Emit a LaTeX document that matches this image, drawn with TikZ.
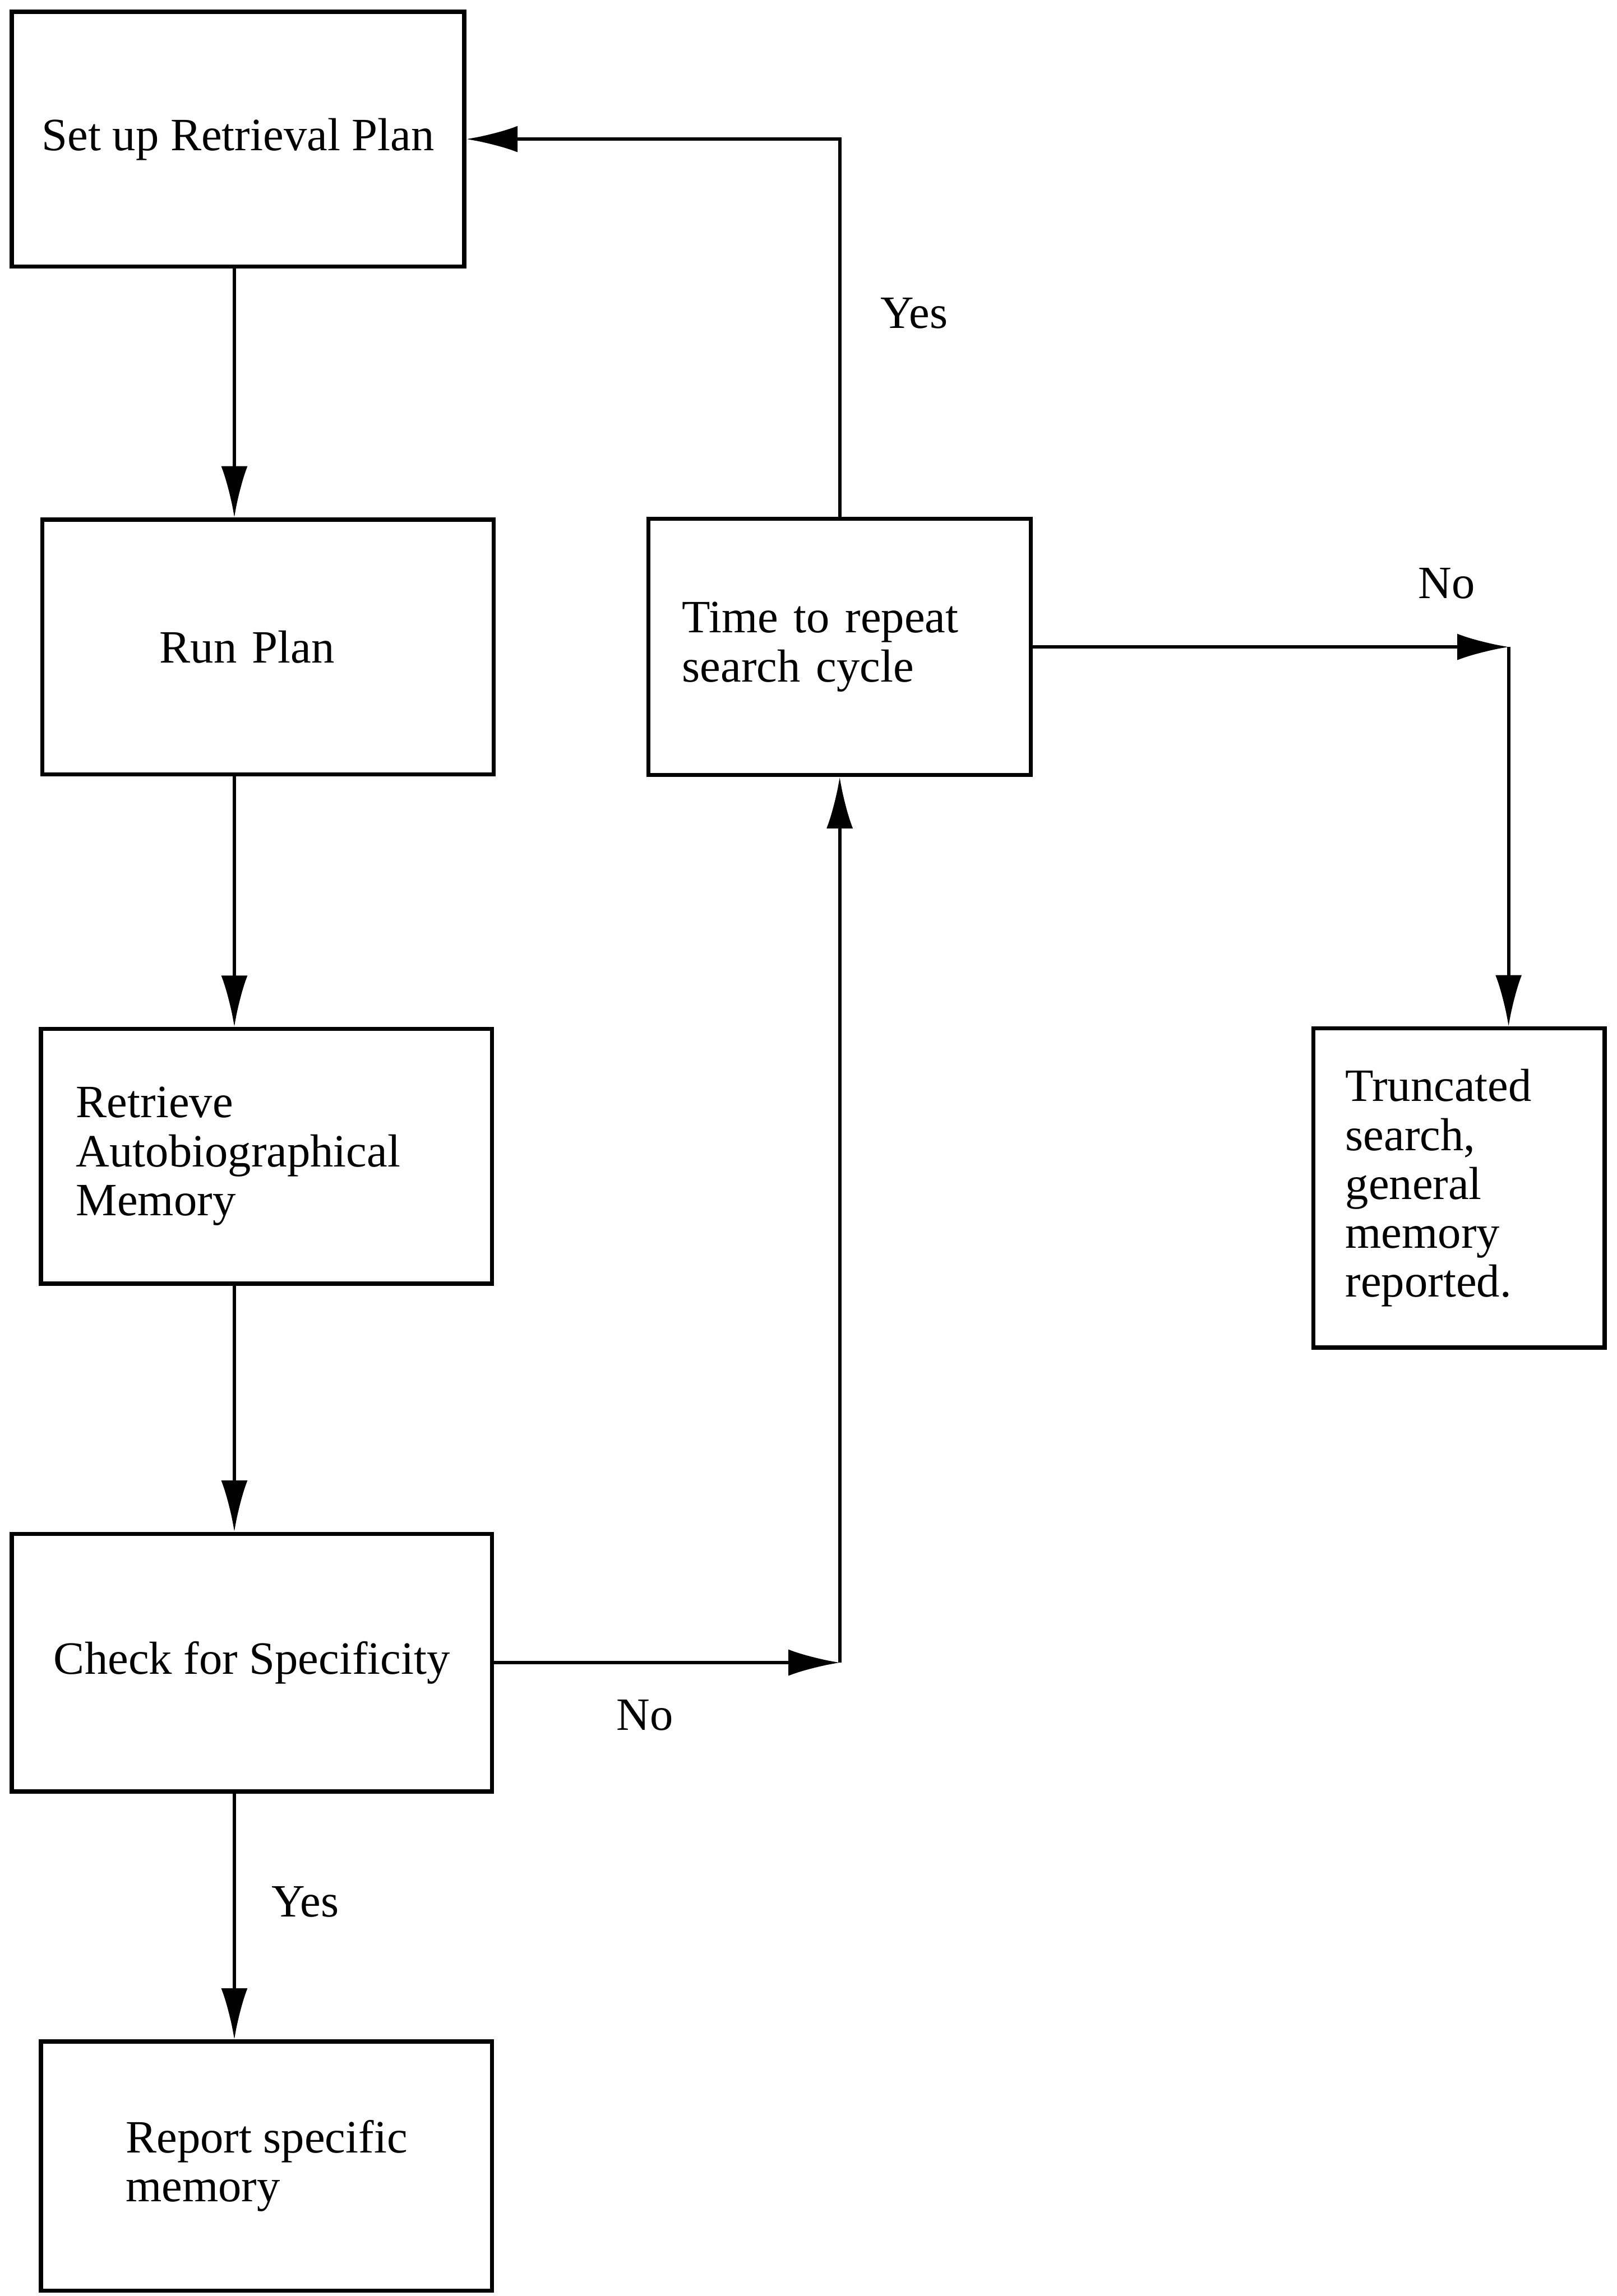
\documentclass[tikz,border=0pt]{standalone}
\usepackage{fontspec}
\setmainfont{Liberation Serif}
\usepackage{tikz}
\usetikzlibrary{positioning, arrows.meta}
\tikzset{
  block/.style={rectangle, draw, line width=1.6pt, minimum width=6.16cm, minimum height=3.48cm, align=left, font=\fontsize{18}{19}\selectfont},
  arrow/.style={-{Latex[length=7mm, width=3.6mm]}, line width=1.3pt},
  answer/.style={font=\fontsize{18}{19}\selectfont, inner sep=1pt},
}

\begin{document}
\begin{tikzpicture}[node distance=3.4cm and 2.06cm]
  \useasboundingbox (0,0) rectangle (22.08,-31.36);

  % Nodes
  \node[block, minimum width=6.18cm] (setup) at (3.25,-1.9) {Set up Retrieval Plan};
  \node[block, text width=2.96cm, below=3.4cm of setup, xshift=0.41cm] (run) {Run Plan};
  \node[block, text width=5.2cm, below=3.42cm of run, xshift=-0.02cm] (retrieve) {Retrieve\\Autobiographical\\Memory};
  \node[block, minimum width=6.56cm, minimum height=3.52cm, below=3.36cm of retrieve, xshift=-0.2cm] (check) {Check for Specificity};
  \node[block, minimum height=3.4cm, below=3.36cm of check, xshift=0.2cm] (report) {Report specific\\memory};

  \node[block, text width=4.3cm, minimum width=5.22cm, minimum height=3.5cm, right=2.06cm of run] (repeat) {Time to repeat\\search cycle};
  \node[block, text width=3.1cm, minimum width=3.98cm, minimum height=4.36cm, right=3.8cm of repeat, yshift=-7.39cm] (trunc) {Truncated\\search,\\general\\memory\\reported.};

  % Junction points
  \coordinate (spine) at (3.2,0);
  \coordinate (loopup) at (repeat.south |- check.east);
  \coordinate (turn) at (20.6,0 |- repeat.east);

  % Main column
  \draw[arrow] (setup.south -| spine) -- (run.north -| spine);
  \draw[arrow] (run.south -| spine) -- (retrieve.north -| spine);
  \draw[arrow] (retrieve.south -| spine) -- (check.north -| spine);
  \draw[arrow] (check.south -| spine) -- node[answer, right=0.45cm, yshift=0.2cm] {Yes} (report.north -| spine);

  % Loop back
  \draw[arrow] (check.east) -- node[answer, below=0.45cm, xshift=-0.3cm] {No} (loopup);
  \draw[arrow] (loopup) -- (repeat.south);
  \draw[arrow] (repeat.north) |- node[answer, pos=0.25, right=0.5cm, yshift=0.2cm] {Yes} (setup.east);

  % Give up
  \draw[arrow] (repeat.east) -- node[answer, pos=0.87, above=0.6cm] {No} (turn);
  \draw[arrow] (turn) -- (trunc.north -| turn);

\end{tikzpicture}
\end{document}
